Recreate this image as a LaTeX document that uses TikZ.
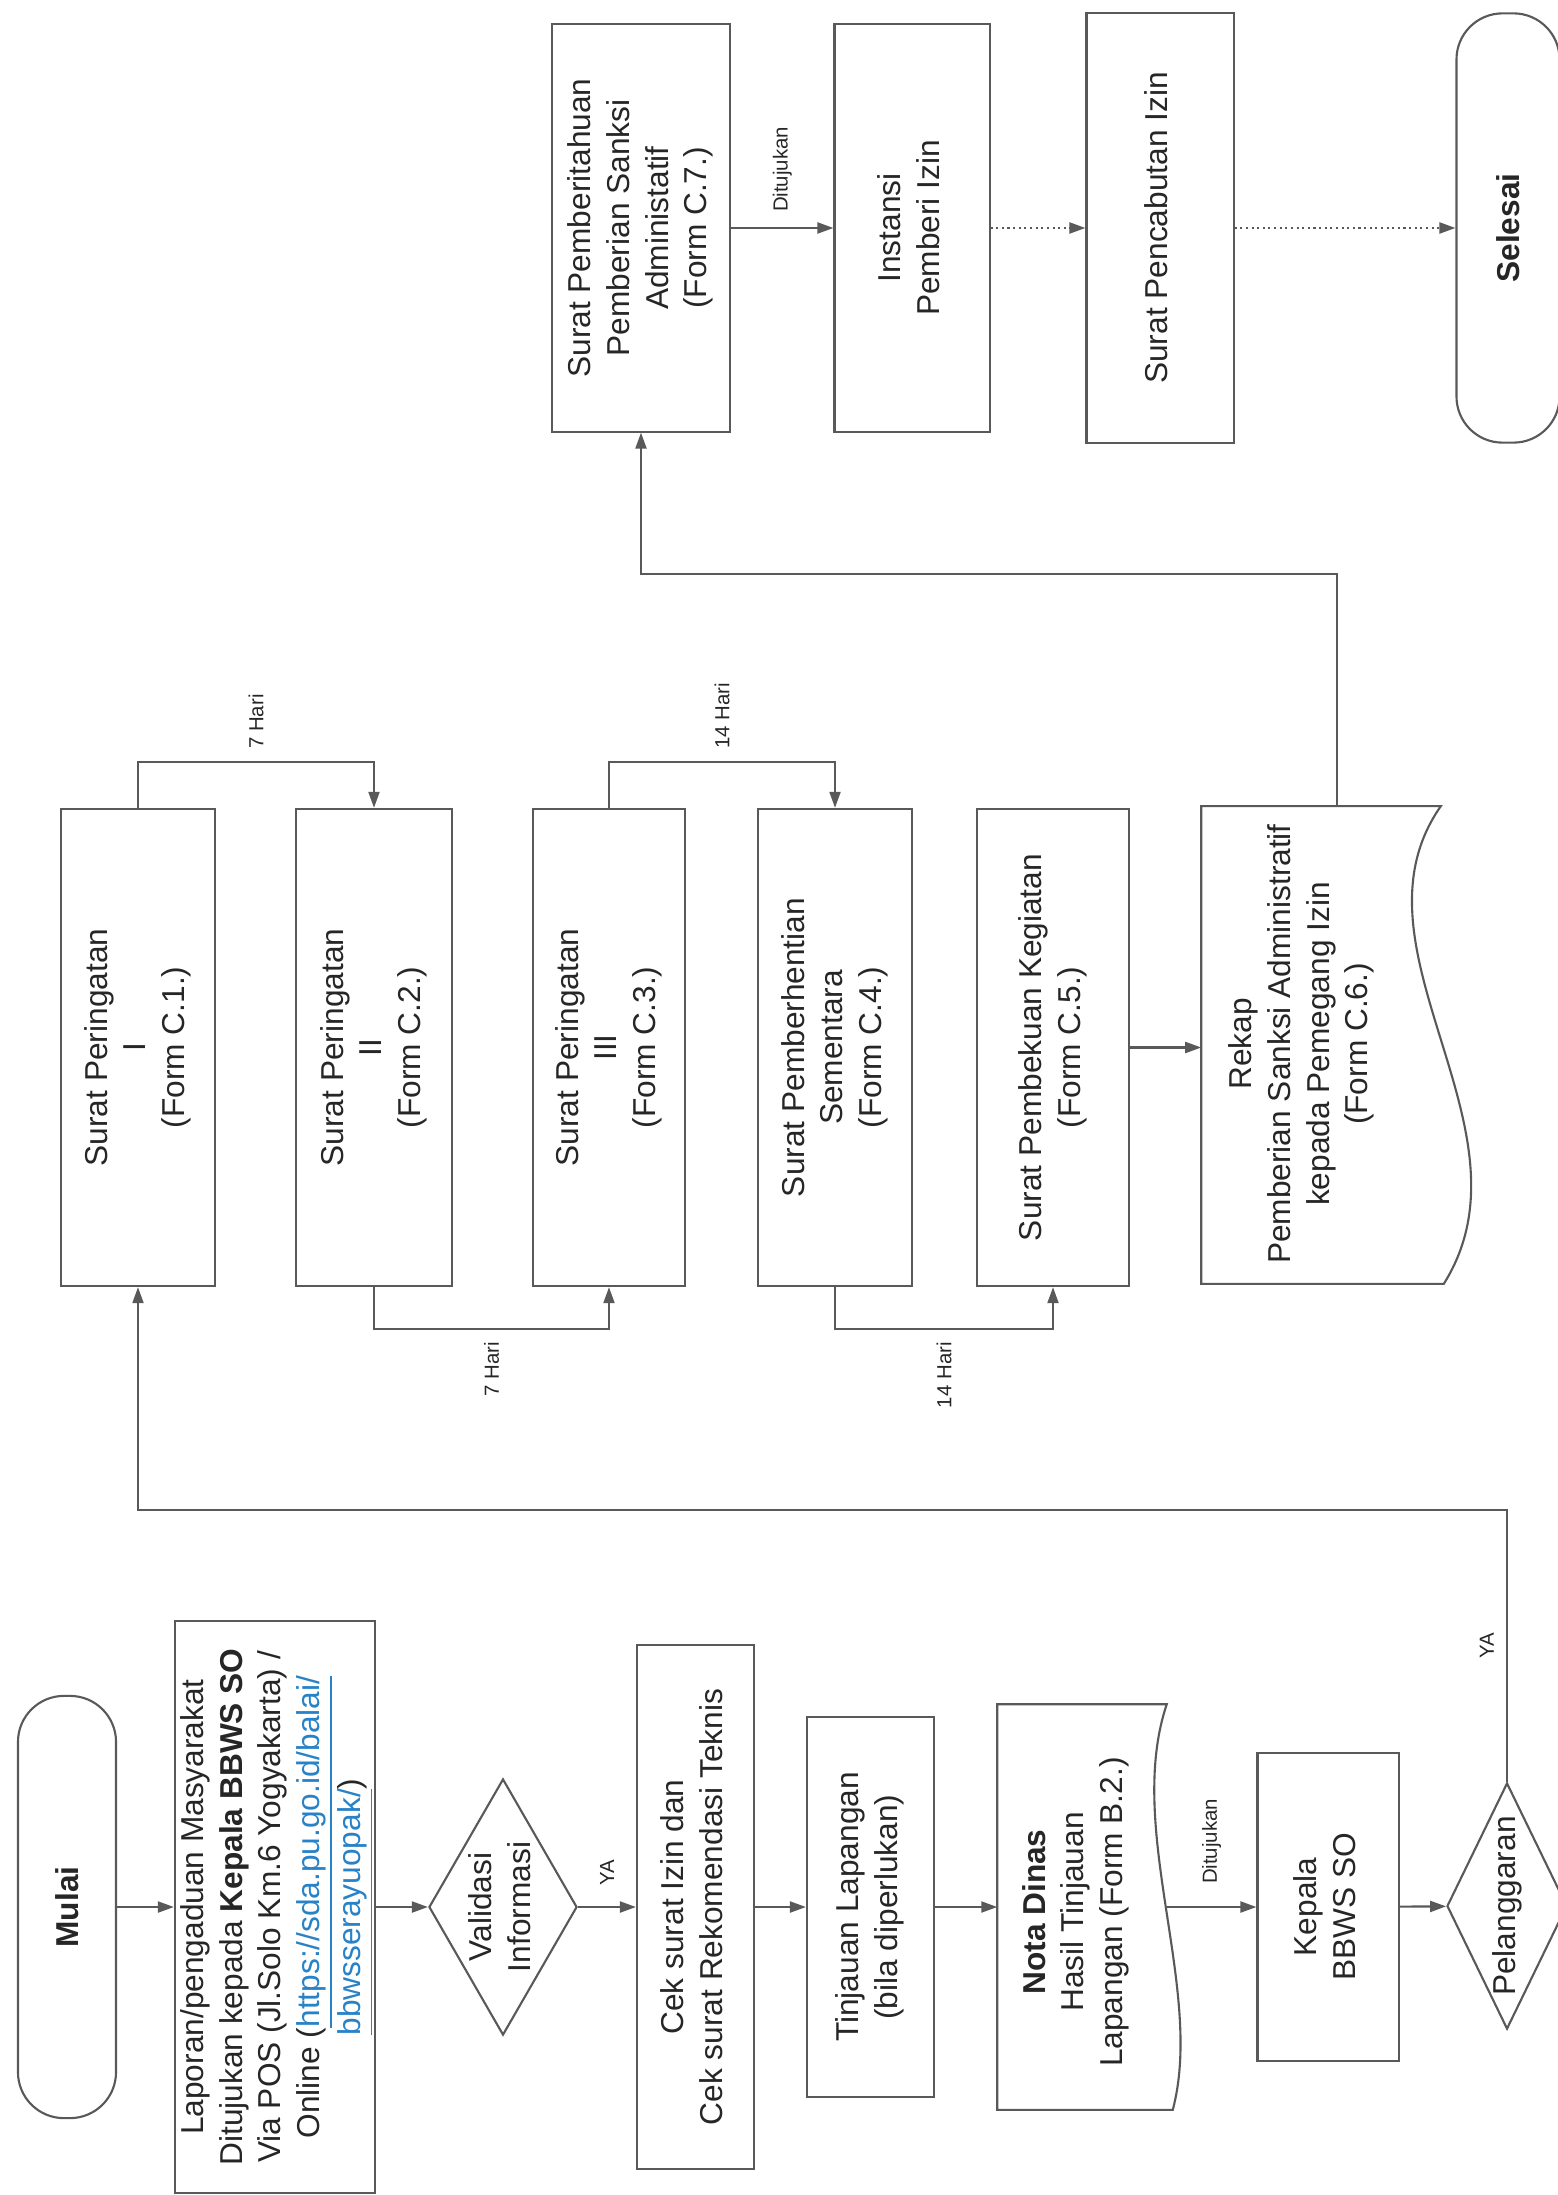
\documentclass[tikz,border=0pt]{standalone}
\usepackage{fontspec}
\setmainfont{Liberation Sans}
\usepackage{graphicx}
\usetikzlibrary{arrows.meta,shapes.geometric,calc}
\definecolor{linec}{gray}{0.35}
\definecolor{textc}{gray}{0.15}
\definecolor{linkc}{RGB}{40,130,200}
\newcommand\rtx[1]{\rotatebox{90}{\begin{tabular}{@{}c@{}}#1\end{tabular}}}
\newcommand\lnk[1]{\textcolor{linkc}{\underline{#1}}}
\newcommand\rl[1]{\rotatebox{90}{#1}}
\begin{document}
\begin{tikzpicture}[x=0.01cm, y=-0.01cm,
  every node/.style={text=textc, font=\fontsize{9}{11}\selectfont},
  box/.style={rectangle, draw=linec, line width=0.6pt, fill=white, inner sep=0pt},
  term/.style={box, rounded corners=0.46cm},
  dia/.style={diamond, draw=linec, line width=0.6pt, fill=white, inner sep=0pt},
  shell/.style={rectangle, inner sep=0pt},
  lbl/.style={font=\fontsize{5.8}{7}\selectfont, inner sep=0pt},
  outl/.style={draw=linec, line width=0.6pt, fill=white},
  arr/.style={draw=linec, line width=0.6pt, -{Triangle[length=0.16cm,width=0.11cm]}},
  dotarr/.style={arr, densely dotted}]

\useasboundingbox (0,0) rectangle (1557,2195);
\fill[white] (0,0) rectangle (1557,2195);

\coordinate (ly) at (0,1510);
\coordinate (ty) at (0,574);

% ---------- top row ----------
\node[box, minimum width=1.78cm, minimum height=4.07cm] (c7) at (641,228)
  {\rtx{Surat Pemberitahuan\\Pemberian Sanksi\\Administatif\\(Form C.7.)}};
\node[box, minimum width=1.55cm, minimum height=4.07cm] (ins) at (912,228)
  {\rtx{Instansi\\Pemberi Izin}};
\node[box, minimum width=1.47cm, minimum height=4.30cm] (cab) at (1160,228)
  {\rtx{Surat Pencabutan Izin}};
\node[term, minimum width=1.03cm, minimum height=4.29cm] (sel) at (1508,228)
  {\rl{\textbf{Selesai}}};

% ---------- middle row ----------
\node[box, minimum width=1.54cm, minimum height=4.77cm] (p1) at (138,1047.5)
  {\rtx{Surat Peringatan\\I\\(Form C.1.)}};
\node[box, minimum width=1.56cm, minimum height=4.77cm] (p2) at (374,1047.5)
  {\rtx{Surat Peringatan\\II\\(Form C.2.)}};
\node[box, minimum width=1.52cm, minimum height=4.77cm] (p3) at (609,1047.5)
  {\rtx{Surat Peringatan\\III\\(Form C.3.)}};
\node[box, minimum width=1.54cm, minimum height=4.77cm] (p4) at (835,1047.5)
  {\rtx{Surat Pemberhentian\\Sementara\\(Form C.4.)}};
\node[box, minimum width=1.52cm, minimum height=4.77cm] (p5) at (1053,1047.5)
  {\rtx{Surat Pembekuan Kegiatan\\(Form C.5.)}};
\node[shell, minimum width=2.70cm, minimum height=4.76cm] (rek) at (1337,1045) {};
\draw[outl] (rek.north west) -- ($(rek.north east)+(-32,0)$)
  .. controls ($(rek.north east)+(-132,143)$) and ($(rek.north east)+(68,323)$)
  .. ($(rek.south east)+(-29,0)$) -- (rek.south west) -- cycle;
\node at (1302,1044)
  {\rtx{Rekap\\Pemberian Sanksi Administratif\\kepada Pemegang Izin\\(Form C.6.)}};

% ---------- bottom row ----------
\node[term, minimum width=0.98cm, minimum height=4.22cm] (mul) at (67,1907)
  {\rl{\textbf{Mulai}}};
\node[box, minimum width=2.00cm, minimum height=5.72cm] (lap) at (275,1907)
  {\rtx{Laporan/pengaduan Masyarakat\\Ditujukan kepada \textbf{Kepala BBWS SO}\\Via POS (Jl.Solo Km.6 Yogyakarta) /\\Online (\lnk{https://sda.pu.go.id/balai/}\\\lnk{bbwsserayuopak/})}};
\node[dia, minimum width=1.48cm, minimum height=2.56cm] (val) at (503,1907) {};
\node at (val) {\rtx{Validasi\\Informasi}};
\node[box, minimum width=1.17cm, minimum height=5.24cm] (cek) at (695.5,1907)
  {\rtx{Cek surat Izin dan\\Cek surat Rekomendasi Teknis}};
\node[box, minimum width=1.27cm, minimum height=3.80cm] (tin) at (870.5,1907)
  {\rtx{Tinjauan Lapangan\\(bila diperlukan)}};
\node[shell, minimum width=1.68cm, minimum height=4.04cm] (nota) at (1082,1907) {};
\draw[outl] (nota.north west) -- (nota.north east)
  .. controls ($(nota.north east)+(-42,125)$) and ($(nota.north east)+(38,285)$)
  .. ($(nota.south east)+(6,0)$) -- (nota.south west) -- cycle;
\node at (1076,1912) {\rtx{\textbf{Nota Dinas}\\Hasil Tinjauan\\Lapangan (Form B.2.)}};
\node[box, minimum width=1.41cm, minimum height=3.08cm] (kep) at (1328,1907)
  {\rtx{Kepala\\BBWS SO}};
\node[dia, minimum width=1.20cm, minimum height=2.46cm] (pel) at (1507,1906) {};
\node at (pel) {\rl{Pelanggaran}};

% ---------- connectors ----------
\draw[arr] (mul) -- (lap);
\draw[arr] (lap) -- (val);
\draw[arr] (val) -- node[lbl, above=0.2cm] {\rl{YA}} (cek);
\draw[arr] (cek) -- (tin);
\draw[arr] (tin) -- (nota);
\draw[arr] (nota.east) -- node[lbl, above=0.22cm] {\rl{Ditujukan}} (kep);
\draw[arr] (kep) -- (pel);
\draw[arr] (pel.north) -- node[lbl, left=0.12cm] {\rl{YA}} (pel.north |- ly)
  -- (p1.south |- ly) -- (p1.south);

\draw[arr] (p1.north) -- ++(0,-46) -| node[lbl, pos=0.25, above=0.12cm] {\rl{7 Hari}} (p2.north);
\draw[arr] (p2.south) -- ++(0,42) -| node[lbl, pos=0.25, below=0.12cm] {\rl{7 Hari}} (p3.south);
\draw[arr] (p3.north) -- ++(0,-46) -| node[lbl, pos=0.25, above=0.12cm] {\rl{14 Hari}} (p4.north);
\draw[arr] (p4.south) -- ++(0,42) -| node[lbl, pos=0.25, below=0.12cm] {\rl{14 Hari}} (p5.south);
\draw[arr] (p5.east) -- (p5.east -| rek.west);

\draw[arr] (rek.north) -- (rek.north |- ty) -- (c7.south |- ty) -- (c7.south);
\draw[arr] (c7) -- node[lbl, above=0.15cm] {\rl{Ditujukan}} (ins);
\draw[dotarr] (ins) -- (cab);
\draw[dotarr] (cab) -- (sel);
\end{tikzpicture}
\end{document}
